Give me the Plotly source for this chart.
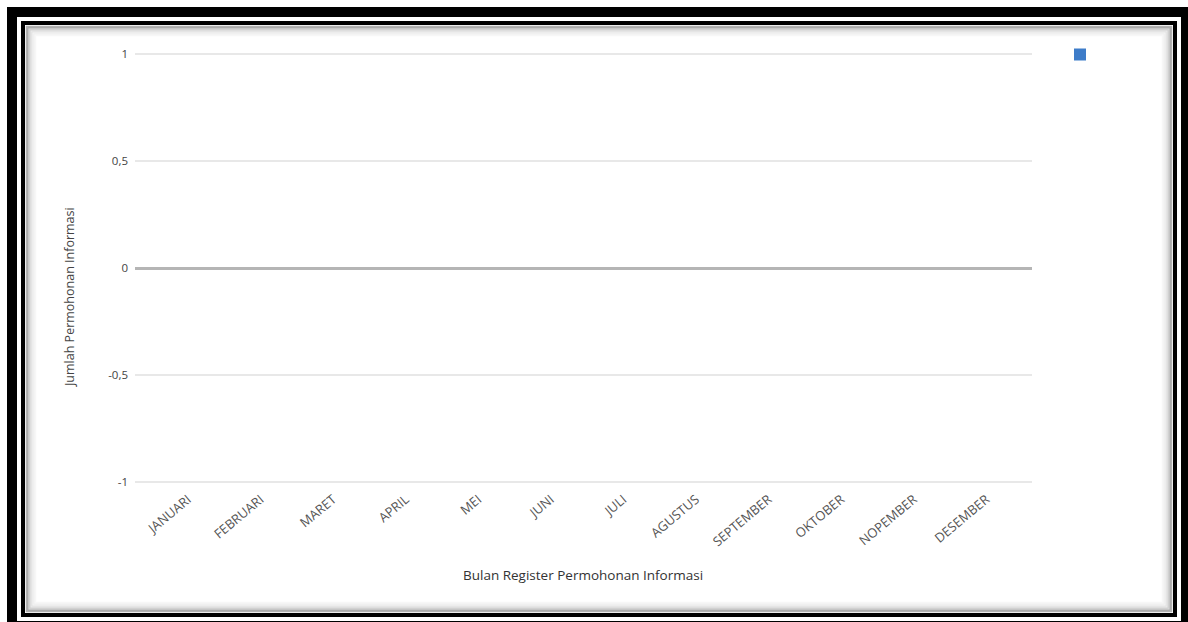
import plotly.graph_objects as go

months = ["JANUARI", "FEBRUARI", "MARET", "APRIL", "MEI", "JUNI", "JULI",
          "AGUSTUS", "SEPTEMBER", "OKTOBER", "NOPEMBER", "DESEMBER"]
values = [0, 0, 0, 0, 0, 0, 0, 0, 0, 0, 0, 0]
y_ticks = [-1, -0.5, 0, 0.5, 1]
y_tick_labels = ["-1", "-0,5", "0", "0,5", "1"]
x_title = "Bulan Register Permohonan Informasi"
y_title = "Jumlah Permohonan Informasi"

W, H = 1188, 622
def px(x):
    return x / W
def py(y):
    return 1 - y / H

fig = go.Figure()
fig.add_trace(go.Bar(x=months, y=values, name=" ", marker_color="#3d7cc9",
                     marker_line_width=0, showlegend=True))

shapes = []
def rect(x0, y0, x1, y1, color, width):
    shapes.append(dict(type="rect", xref="paper", yref="paper",
                       x0=px(x0), x1=px(x1), y0=py(y0), y1=py(y1),
                       line=dict(color=color, width=width), fillcolor="rgba(0,0,0,0)",
                       layer="above"))
# soft inner shadow (fading inward)
shadow = [(0.03, 10), (0.05, 8), (0.09, 6), (0.16, 4), (0.30, 2)]
for alpha, inset in shadow:
    rect(25 + inset, 25 + inset, 1173 - inset, 613 - inset,
         "rgba(0,0,0,%.2f)" % alpha, 2.5)
rect(23, 23, 1175, 615, "black", 4)
rect(12, 12, 1186, 626, "black", 10)

annotations = [
    dict(text=x_title, xref="paper", yref="paper", x=px(583), y=py(575),
         xanchor="center", yanchor="middle",
         showarrow=False, font=dict(size=13.5, color="#333333")),
    dict(text=y_title, xref="paper", yref="paper", x=px(69), y=py(297),
         xanchor="center", yanchor="middle",
         textangle=-90, showarrow=False, font=dict(size=12.5, color="#444444")),
]

# range padded by 0.03 so edge gridlines at +/-1 are drawn; domain padded to match
pad = 0.03
half = (482 - 54) / 2
fig.update_layout(
    width=W, height=H,
    margin=dict(l=0, r=0, t=0, b=0),
    paper_bgcolor="white", plot_bgcolor="white",
    font=dict(family="Open Sans", size=11, color="#444444"),
    xaxis=dict(domain=[px(135), px(1032)], range=[-0.73, 11.63],
               tickangle=-40, showgrid=False,
               automargin=False, showline=False, ticks="",
               tickfont=dict(size=13, color="#555555")),
    yaxis=dict(domain=[py(482 + pad * half), py(54 - pad * half)],
               range=[-1 - pad, 1 + pad], tickvals=y_ticks,
               ticktext=y_tick_labels, showgrid=True, gridcolor="#e8e8e8",
               gridwidth=1.5, zeroline=True, zerolinecolor="#b5b5b5",
               zerolinewidth=2.5, showline=False, ticks="", automargin=False,
               tickfont=dict(size=11.5, color="#444444"), ticklabelstandoff=6),
    legend=dict(x=px(1060), y=py(40), xanchor="left", yanchor="top",
                bgcolor="rgba(0,0,0,0)", font=dict(size=10)),
    shapes=shapes,
    annotations=annotations,
)

fig.write_html("out.html", config={"displayModeBar": False},
               post_script="document.body.style.margin='0';document.body.style.overflow='hidden';")
